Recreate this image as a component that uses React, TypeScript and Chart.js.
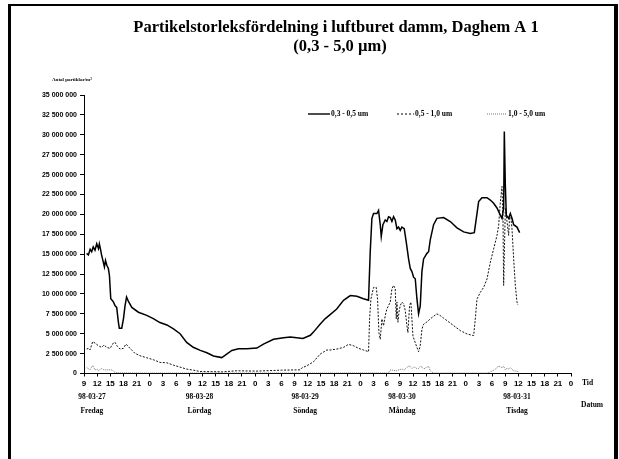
import React, { useEffect, useRef } from "react";
import { Chart, registerables } from "chart.js";

Chart.register(...registerables);

// ---- Text ----
const TITLE_1 = "Partikelstorleksfördelning i luftburet damm, Daghem A 1";
const TITLE_2 = "(0,3 - 5,0 µm)";
const Y_TITLE = "Antal partiklar/m³";
const X_TIME = "Tid";
const X_DATE = "Datum";
const seriesLabels = ["0,3 - 0,5 um", "0,5 - 1,0 um", "1,0 - 5,0 um"];

// ---- Axes (hours counted from 98-03-27 09:00) ----
const X_MIN = 0;
const X_MAX = 111;
const X_STEP = 3;
const START_HOUR = 9;
const Y_MIN = 0;
const Y_MAX = 35; // millions
const Y_STEP = 2.5;

const dayDates = ["98-03-27", "98-03-28", "98-03-29", "98-03-30", "98-03-31"];
const dayNames = ["Fredag", "Lördag", "Söndag", "Måndag", "Tisdag"];
const dayLabelHours = [1.8, 26.3, 50.4, 72.5, 98.7];

// ---- Series 0,3 - 0,5 um (millions / m3) ----
const smallHours = [
  0.6, 1.0, 1.4, 1.75, 2.1, 2.5, 2.9, 3.3, 3.5, 3.8, 4.0, 4.4, 4.65, 4.9, 5.2, 5.55, 5.8, 6.1, 6.4, 6.7,
  7.1, 7.45, 7.85, 8.05, 8.6, 9.0, 9.35, 9.7, 10.1, 10.9, 12.4, 14.3, 15.8, 17.3, 18.9, 20.4, 21.9, 23.4,
  24.9, 26.5, 28.0, 29.5, 31.4, 32.2, 33.7, 35.2, 37.1, 39.4, 40.9, 43.2, 45.5, 47.0, 48.5, 49.9, 51.6,
  52.3, 53.8, 55.0, 56.1, 57.6, 59.15, 60.7, 62.2, 63.7, 64.85, 65.24, 65.62, 66.0, 66.76, 67.14, 67.52,
  67.75, 68.13, 68.66, 69.04, 69.42, 69.8, 70.18, 70.56, 70.94, 71.32, 71.7, 72.08, 72.46, 72.99, 73.45,
  73.98, 74.36, 74.74, 75.12, 75.5, 75.88, 76.26, 76.64, 77.02, 77.4, 78.16, 78.54, 78.92, 79.68, 80.44,
  81.96, 83.48, 85.01, 86.53, 88.05, 88.96, 89.42, 89.95, 90.71, 91.85, 92.61, 93.37, 94.13, 94.89,
  95.27, 95.65, 95.8, 96.03, 96.26, 96.79, 97.17, 97.55, 97.93, 98.69, 99.3,
];
const smallValues = [
  15.1, 14.9, 15.6, 15.3, 15.9, 15.5, 16.3, 15.7, 16.3, 15.5, 14.9, 14.0, 13.4, 14.2, 13.6, 13.2, 12.3, 9.4, 9.2, 9.0,
  8.5, 8.3, 6.4, 5.7, 5.7, 6.9, 8.5, 9.6, 9.1, 8.3, 7.7, 7.3, 6.9, 6.4, 6.1, 5.6, 5.0, 3.9,
  3.3, 2.9, 2.6, 2.2, 2.0, 2.3, 2.9, 3.1, 3.1, 3.2, 3.7, 4.3, 4.5, 4.6, 4.5, 4.4, 4.8,
  5.2, 6.2, 6.9, 7.4, 8.1, 9.2, 9.8, 9.7, 9.4, 9.2, 15.3, 19.5, 20.1, 20.1, 20.5, 18.7,
  17.2, 18.7, 19.3, 19.1, 19.7, 19.6, 19.1, 19.7, 19.3, 18.2, 18.4, 18.0, 18.4, 18.2, 16.5,
  14.4, 13.2, 12.8, 12.1, 11.9, 9.4, 7.5, 8.5, 12.8, 14.4, 15.1, 15.3, 16.8, 18.7, 19.5,
  19.6, 19.1, 18.3, 17.8, 17.6, 17.7, 19.5, 21.6, 22.1, 22.1, 21.8, 21.4, 20.8, 19.9,
  19.5, 20.8, 30.4, 23.7, 19.9, 19.5, 20.1, 19.5, 18.7, 18.4, 17.7,
];

// ---- Series 0,5 - 1,0 um ----
const midHours = [
  0.61, 0.99, 1.37, 1.98, 2.51, 3.27, 4.03, 4.56, 5.17, 5.93, 6.69, 7.07, 7.6, 8.21, 8.97, 9.58, 10.49,
  11.63, 12.77, 14.29, 15.81, 17.34, 18.86, 20.38, 21.9, 23.42, 24.94, 26.46, 31.6, 34.7, 39.4, 45.0,
  49.27, 49.65, 50.79, 52.31, 53.83, 55.35, 56.11, 57.63, 59.15, 60.29, 61.43, 62.58, 63.72, 64.86,
  65.09, 65.39, 66.0, 66.61, 66.91, 67.22, 67.52, 67.9, 68.28, 68.66, 69.04, 69.42, 69.8, 70.18, 70.56,
  70.94, 71.17, 71.32, 71.55, 71.78, 72.08, 72.46, 72.84, 73.22, 73.6, 73.83, 74.21, 74.51, 74.74, 74.97,
  75.5, 76.03, 76.26, 76.64, 77.02, 77.4, 78.16, 78.92, 79.68, 80.44, 81.2, 81.96, 82.72, 84.24, 85.77,
  87.29, 88.81, 89.19, 89.57, 90.33, 91.09, 91.85, 92.61, 93.37, 94.13, 94.51, 94.89, 95.27, 95.5,
  95.65, 96.03, 96.41, 96.79, 97.02, 97.32, 97.55, 97.93, 98.31, 98.69, 98.92,
];
const midValues = [
  3.07, 3.16, 2.95, 4.0, 3.83, 3.49, 3.28, 3.58, 3.28, 3.16, 3.83, 3.92, 3.41, 3.07, 3.16, 3.7, 3.16,
  2.53, 2.23, 1.98, 1.73, 1.39, 1.35, 1.05, 0.8, 0.55, 0.42, 0.25, 0.21, 0.34, 0.3, 0.42,
  0.46, 0.7, 0.97, 1.47, 2.44, 2.95, 2.95, 3.07, 3.28, 3.66, 3.49, 3.16, 2.95, 2.74,
  6.86, 9.35, 10.82, 10.82, 9.35, 5.14, 4.3, 6.86, 6.0, 7.28, 8.12, 8.55, 8.97, 10.65, 11.07,
  10.65, 6.86, 8.97, 6.44, 7.7, 8.55, 8.97, 8.76, 7.91, 6.0, 5.14, 8.55, 8.97, 6.86, 4.72,
  3.87, 3.07, 2.74, 3.49, 5.56, 6.19, 6.48, 6.86, 7.2, 7.49, 7.28, 6.95, 6.65, 6.02, 5.39,
  4.97, 4.76, 6.86, 9.35, 10.19, 10.82, 11.87, 13.98, 15.66, 17.35, 18.6, 21.5, 23.5, 19.5,
  11.07, 20.8, 19.1, 17.35, 19.9, 19.5, 18.2, 14.4, 11.07, 8.97, 8.6,
];

// ---- Series 1,0 - 5,0 um ----
const largeHours = [
  0.61, 1.0, 1.37, 1.98, 2.51, 3.0, 3.27, 4.03, 4.4, 4.79, 5.55, 6.3, 7.07, 8.0, 12.0, 20.0, 30.0,
  40.0, 50.0, 60.0, 69.0, 69.42, 69.8, 70.5, 71.32, 71.9, 72.46, 73.0, 73.6, 74.21, 74.74, 75.1, 75.5,
  75.9, 76.26, 76.64, 77.02, 77.4, 77.78, 78.16, 78.54, 78.92, 79.68, 85.0, 91.85, 92.61, 93.2, 93.75,
  94.1, 94.51, 94.9, 95.27, 95.65, 96.03, 96.4, 96.79, 97.17, 97.55, 97.93, 98.5, 99.07,
];
const largeValues = [
  0.76, 0.6, 0.46, 1.01, 0.46, 0.55, 0.34, 0.63, 0.5, 0.46, 0.46, 0.46, 0.13, 0.08, 0.06, 0.05, 0.05,
  0.05, 0.05, 0.06, 0.06, 0.1, 0.46, 0.4, 0.34, 0.5, 0.55, 0.45, 0.76, 0.97, 0.63, 0.8, 0.76,
  0.6, 0.63, 0.9, 0.8, 0.6, 0.63, 0.85, 0.88, 0.34, 0.05, 0.05, 0.05, 0.21, 0.35, 0.55,
  0.7, 0.97, 0.8, 0.76, 0.9, 0.46, 0.65, 0.55, 0.76, 0.5, 0.34, 0.3, 0.21,
];

const toPoints = (xs: number[], ys: number[]) => xs.map((x, i) => ({ x, y: ys[i] }));

const formatMillions = (v: number) =>
  Math.round(v * 1000000)
    .toString()
    .replace(/\B(?=(\d{3})+(?!\d))/g, " ");

const SERIF = "'Liberation Serif', 'Times New Roman', serif";
const SANS = "'Liberation Sans', Arial, sans-serif";

const extrasPlugin = {
  id: "extras",
  afterDraw(chart: any) {
    const ctx = chart.ctx as CanvasRenderingContext2D;
    const xs = chart.scales.x;
    ctx.save();
    // frame
    ctx.fillStyle = "#000";
    ctx.fillRect(8, 4, 3, 455);
    ctx.fillRect(8, 4, 610, 2);
    ctx.fillRect(614, 4, 4, 455);

    // title
    ctx.fillStyle = "#000";
    ctx.textAlign = "center";
    ctx.textBaseline = "middle";
    ctx.font = `bold 16.5px ${SERIF}`;
    ctx.fillText(TITLE_1, 336, 28);
    ctx.fillText(TITLE_2, 340, 47);

    // y title
    ctx.textAlign = "left";
    ctx.font = `bold 5px ${SERIF}`;
    ctx.fillText(Y_TITLE, 52, 80);

    // legend
    const ly = 114;
    ctx.font = `bold 7.5px ${SERIF}`;
    ctx.strokeStyle = "#000";
    ctx.lineWidth = 1.4;
    ctx.setLineDash([]);
    ctx.beginPath();
    ctx.moveTo(308, ly);
    ctx.lineTo(330, ly);
    ctx.stroke();
    ctx.fillText(seriesLabels[0], 331, ly);
    ctx.lineWidth = 1;
    ctx.setLineDash([2, 2]);
    ctx.beginPath();
    ctx.moveTo(397, ly);
    ctx.lineTo(414, ly);
    ctx.stroke();
    ctx.fillText(seriesLabels[1], 415, ly);
    ctx.strokeStyle = "#555";
    ctx.lineWidth = 0.8;
    ctx.setLineDash([1, 1]);
    ctx.beginPath();
    ctx.moveTo(487, ly);
    ctx.lineTo(507, ly);
    ctx.stroke();
    ctx.setLineDash([]);
    ctx.fillText(seriesLabels[2], 508, ly);

    // axis words
    ctx.font = `bold 7.5px ${SERIF}`;
    ctx.fillText(X_TIME, 582, 383);
    ctx.fillText(X_DATE, 581, 405);

    // day labels
    ctx.textAlign = "center";
    ctx.font = `bold 7.5px ${SERIF}`;
    dayDates.forEach((d, i) => {
      const px = xs.getPixelForValue(dayLabelHours[i]);
      ctx.fillText(d, px, 397.5);
      ctx.fillText(dayNames[i], px, 411);
    });
    ctx.restore();
  },
};

export default function App() {
  const ref = useRef<HTMLCanvasElement | null>(null);
  useEffect(() => {
    if (!ref.current) return;
    const chart = new Chart(ref.current, {
      type: "line",
      data: {
        datasets: [
          {
            label: seriesLabels[0],
            data: toPoints(smallHours, smallValues),
            borderColor: "#000",
            borderWidth: 1.5,
            pointRadius: 0,
            tension: 0,
          },
          {
            label: seriesLabels[1],
            data: toPoints(midHours, midValues),
            borderColor: "#111",
            borderWidth: 1,
            borderDash: [2, 1.5],
            pointRadius: 0,
            tension: 0,
          },
          {
            label: seriesLabels[2],
            data: toPoints(largeHours, largeValues),
            borderColor: "#555",
            borderWidth: 0.8,
            borderDash: [1, 1],
            pointRadius: 0,
            tension: 0,
          },
        ],
      },
      options: {
        animation: false,
        responsive: false,
        devicePixelRatio: 1,
        layout: { padding: { left: 0, right: 48, top: 95, bottom: 0 } },
        plugins: {
          legend: { display: false },
          title: { display: false },
          tooltip: { enabled: false },
        },
        scales: {
          x: {
            type: "linear",
            min: X_MIN,
            max: X_MAX,
            afterFit: (s: any) => {
              s.height = 85.5;
            },
            ticks: {
              stepSize: X_STEP,
              autoSkip: false,
              maxRotation: 0,
              padding: 2,
              color: "#000",
              font: { family: SANS, size: 8, weight: "bold" },
              callback: (v: any) => String((START_HOUR + Number(v)) % 24),
            },
            grid: { drawOnChartArea: false, drawTicks: true, tickLength: 3, color: "#000" },
            border: { color: "#000", width: 1 },
          },
          y: {
            type: "linear",
            min: Y_MIN,
            max: Y_MAX,
            afterFit: (s: any) => {
              s.width = 84;
            },
            ticks: {
              stepSize: Y_STEP,
              padding: 3,
              color: "#000",
              font: { family: SANS, size: 7, weight: "bold" },
              callback: (v: any) => formatMillions(Number(v)),
            },
            grid: { drawOnChartArea: false, drawTicks: true, tickLength: 4, color: "#000" },
            border: { color: "#000", width: 1 },
          },
        },
      },
      plugins: [extrasPlugin],
    });
    return () => chart.destroy();
  }, []);
  return (
    <div style={{ position: "absolute", left: 0, top: 0, width: 619, height: 459, background: "#fff" }}>
      <canvas ref={ref} width={619} height={459} style={{ width: 619, height: 459, display: "block" }} />
    </div>
  );
}
